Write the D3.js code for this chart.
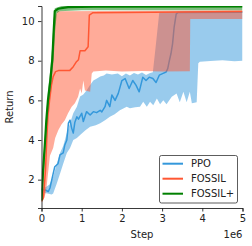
<!DOCTYPE html>
<html>
<head>
<meta charset="utf-8">
<script src="https://cdn.jsdelivr.net/npm/d3@7"></script>
<style>
  body { margin: 0; background: #fff; }
  svg { display: block; font-family: 'DejaVu Sans', sans-serif; }
</style>
</head>
<body>
<svg id="chart"></svg>
<script>
// Steps are in millions (axis shows 1e6 offset).
const seriesNames = ['PPO', 'FOSSIL', 'FOSSIL+'];
const xTicks = [0, 1, 2, 3, 4, 5];
const yTicks = [2, 4, 6, 8, 10];

const ppoMean = [[0,1.5],[0.09,1.48],[0.17,1.4],[0.21,1.58],[0.29,2.3],[0.33,2.65],[0.41,2.8],[0.46,3.25],[0.54,3.35],[0.58,3.75],[0.63,4.0],[0.67,4.85],[0.71,5.0],[0.75,4.6],[0.79,4.35],[0.83,4.9],[0.88,5.17],[0.92,5.05],[1.0,5.35],[1.04,4.93],[1.12,5.43],[1.21,5.26],[1.29,5.43],[1.37,5.38],[1.46,5.5],[1.5,5.42],[1.58,5.68],[1.62,6.0],[1.7,5.68],[1.75,6.27],[1.83,6.0],[1.91,6.35],[2.0,7.0],[2.08,7.1],[2.18,6.6],[2.27,7.0],[2.35,6.77],[2.43,6.43],[2.52,7.17],[2.6,7.0],[2.68,7.17],[2.77,7.1],[2.85,6.9],[2.93,7.27],[3.01,7.35],[3.1,7.43],[3.14,7.6],[3.18,8.0],[3.22,8.35],[3.26,8.85],[3.3,9.7],[3.35,10.35],[3.39,10.43],[5,10.45]];
const ppoUpper = [[0,1.6],[0.1,1.62],[0.2,1.75],[0.29,2.15],[0.38,2.8],[0.46,3.35],[0.54,3.7],[0.63,4.35],[0.71,4.85],[0.79,5.35],[0.88,5.68],[0.96,6.2],[1.04,6.3],[1.12,6.5],[1.2,6.75],[1.29,7.0],[1.38,7.1],[1.46,7.2],[1.55,7.25],[1.62,7.35],[1.75,7.3],[1.9,7.35],[2.0,7.22],[2.1,7.36],[2.2,7.25],[2.3,7.38],[2.4,7.3],[2.5,7.4],[2.6,7.28],[2.7,7.38],[2.77,7.42],[2.85,8.9],[2.93,10.45],[3.7,10.5],[5,10.5]];
const ppoLower = [[0,1.35],[0.15,1.3],[0.25,1.25],[0.29,1.3],[0.38,1.8],[0.46,2.3],[0.54,2.8],[0.63,3.35],[0.71,3.6],[0.79,4.0],[0.88,4.1],[0.96,4.25],[1.1,4.5],[1.21,4.67],[1.35,4.75],[1.46,4.85],[1.58,5.0],[1.7,5.17],[1.82,5.3],[1.95,5.5],[2.12,5.68],[2.2,5.6],[2.33,5.65],[2.45,5.68],[2.53,5.93],[2.62,5.68],[2.7,5.93],[2.78,5.75],[2.87,6.1],[2.95,5.8],[3.03,6.0],[3.11,5.8],[3.24,6.18],[3.36,6.35],[3.44,5.9],[3.53,6.43],[3.61,5.9],[3.69,6.43],[3.74,5.85],[3.86,5.9],[3.9,7.87],[3.94,7.95],[4.2,7.98],[4.5,8.02],[4.8,7.97],[5,8.0]];

const fossilMean = [[0,0.9],[0.05,1.1],[0.1,2.5],[0.13,4.0],[0.16,5.2],[0.2,6.0],[0.25,6.8],[0.29,7.2],[0.35,7.45],[0.42,7.5],[0.7,7.5],[0.79,7.7],[0.87,7.95],[0.92,8.05],[0.96,8.5],[1.08,8.5],[1.16,8.7],[1.19,10.3],[1.28,10.42],[5,10.48]];
const fossilUpper = [[0,0.95],[0.05,2.5],[0.1,4.3],[0.14,5.6],[0.18,6.6],[0.24,7.8],[0.29,9.0],[0.33,10.2],[0.4,10.5],[5,10.55]];
const fossilLower = [[0,0.85],[0.05,1.0],[0.1,1.3],[0.13,1.7],[0.21,3.2],[0.29,3.6],[0.34,4.1],[0.42,4.5],[0.5,4.8],[0.58,5.0],[0.66,5.35],[0.75,5.68],[0.83,5.85],[0.91,6.18],[0.96,6.6],[1.0,6.35],[1.04,7.0],[1.08,6.5],[1.21,6.43],[1.25,7.35],[1.29,7.45],[1.6,7.5],[2.0,7.45],[2.5,7.48],[3.0,7.45],[3.69,7.47],[3.7,10.1],[5,10.1]];

const fossilPlusMean = [[0,0.95],[0.04,2.5],[0.09,4.0],[0.12,5.0],[0.16,6.0],[0.22,7.0],[0.27,8.1],[0.3,9.4],[0.33,10.5],[0.41,10.62],[0.66,10.7],[1.3,10.73],[5,10.74]];
const fossilPlusUpper = [[0,1.0],[0.04,2.8],[0.09,4.4],[0.16,6.5],[0.22,7.6],[0.27,8.8],[0.3,10.0],[0.33,10.65],[0.5,10.76],[5,10.78]];
const fossilPlusLower = [[0,0.9],[0.06,2.4],[0.11,4.0],[0.18,5.8],[0.24,6.8],[0.3,8.0],[0.34,9.5],[0.38,10.4],[0.45,10.5],[1.0,10.55],[5,10.55]];

const colors = ['#3498db', '#ff5733', '#008000'];
const widths = [1.5, 1.5, 2.2];

const series = [
    { name: seriesNames[0], mean: ppoMean, upper: ppoUpper, lower: ppoLower },
    { name: seriesNames[1], mean: fossilMean, upper: fossilUpper, lower: fossilLower },
    { name: seriesNames[2], mean: fossilPlusMean, upper: fossilPlusUpper, lower: fossilPlusLower },
];

const width = 252, height = 246;
const margin = { top: 6, right: 9.5, bottom: 38, left: 41.5 };

const svg = d3.select('#chart').attr('width', width).attr('height', height);

const x = d3.scaleLinear().domain([0, 5]).range([margin.left, width - margin.right]);
const y = d3.scaleLinear().domain([0.57, 10.76]).range([height - margin.bottom, margin.top]);

svg.append('defs').append('clipPath').attr('id', 'plot')
    .append('rect')
    .attr('x', margin.left).attr('y', margin.top)
    .attr('width', width - margin.left - margin.right)
    .attr('height', height - margin.top - margin.bottom);

const line = d3.line().x(d => x(d[0])).y(d => y(d[1]));

const plot = svg.append('g').attr('clip-path', 'url(#plot)');

// Each series: band then mean line, drawn in order so later ones sit on top.
series.forEach((s, i) => {
    const band = s.upper.concat(s.lower.slice().reverse());
    plot.append('path')
        .attr('d', line(band) + 'Z')
        .attr('fill', colors[i])
        .attr('fill-opacity', 0.5);
    plot.append('path')
        .attr('d', line(s.mean))
        .attr('fill', 'none')
        .attr('stroke', colors[i])
        .attr('stroke-width', widths[i])
        .attr('stroke-linejoin', 'round');
});

// Axes (left and bottom spines only).
const xAxis = svg.append('g')
    .attr('transform', `translate(0, ${height - margin.bottom})`)
    .call(d3.axisBottom(x).tickValues(xTicks).tickFormat(d3.format('d')).tickSizeOuter(0).tickSize(3.5).tickPadding(3.5));
const yAxis = svg.append('g')
    .attr('transform', `translate(${margin.left}, 0)`)
    .call(d3.axisLeft(y).tickValues(yTicks).tickFormat(d3.format('d')).tickSizeOuter(0).tickSize(3.5).tickPadding(3.5));

[xAxis, yAxis].forEach(g => {
    g.select('.domain').attr('stroke', '#222').attr('stroke-width', 0.9);
    g.selectAll('.tick line').attr('stroke', '#222').attr('stroke-width', 0.9);
    g.selectAll('.tick text').attr('fill', '#222').attr('font-size', '10px').attr('font-family', 'DejaVu Sans');
});

svg.append('text')
    .attr('x', (margin.left + width - margin.right) / 2)
    .attr('y', 238)
    .attr('text-anchor', 'middle')
    .attr('font-size', '10px')
    .attr('fill', '#222')
    .text('Step');

svg.append('text')
    .attr('x', width - margin.right)
    .attr('y', 238)
    .attr('text-anchor', 'end')
    .attr('font-size', '10px')
    .attr('fill', '#222')
    .text('1e6');

svg.append('text')
    .attr('transform', `translate(13, ${(margin.top + height - margin.bottom) / 2}) rotate(-90)`)
    .attr('text-anchor', 'middle')
    .attr('font-size', '10px')
    .attr('fill', '#222')
    .text('Return');

// Legend.
const legend = svg.append('g').attr('transform', 'translate(159.5, 155.5)');
legend.append('rect')
    .attr('width', 78).attr('height', 47.5)
    .attr('rx', 2)
    .attr('fill', '#fff')
    .attr('stroke', '#333')
    .attr('stroke-width', 0.8);

const items = legend.selectAll('.item')
    .data(series)
    .enter()
    .append('g')
    .attr('transform', (d, i) => `translate(0, ${8.2 + i * 15})`);
items.append('line')
    .attr('x1', 3).attr('x2', 23.5)
    .attr('stroke', (d, i) => colors[i])
    .attr('stroke-width', 2);
items.append('text')
    .attr('x', 31.5)
    .attr('dy', '0.35em')
    .attr('font-size', '10px')
    .attr('fill', '#222')
    .text(d => d.name);
</script>
</body>
</html>
